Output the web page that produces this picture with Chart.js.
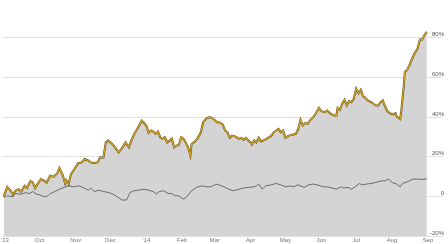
<!DOCTYPE html>
<html>
<head>
<meta charset="utf-8">
<script src="https://cdn.jsdelivr.net/npm/chart.js@4"></script>
<style>
  html, body { margin: 0; padding: 0; background: #fff; }
</style>
</head>
<body>
<canvas id="chart" width="448" height="244"></canvas>
<script>
// days counted from 1 Sep 2013, values in % change
const stockDays = [-1, 2, 5, 7, 9, 12, 14, 17, 19, 22, 24, 26, 29, 31, 34, 36, 39, 42, 45, 47, 50, 52, 53, 55, 57, 60, 63, 66, 69, 72, 74, 77, 80, 82, 85, 87, 89, 92, 95, 98, 100, 102, 104, 107, 109, 112, 115, 118, 120, 122, 124, 126, 128, 130, 132, 134, 136, 138, 140, 142, 144, 146, 148, 150, 152, 154, 156, 158, 160, 161, 163, 166, 169, 171, 174, 177, 180, 183, 185, 188, 190, 192, 194, 196, 199, 202, 204, 206, 208, 210, 212, 213, 215, 217, 219, 221, 224, 227, 230, 232, 234, 236, 238, 240, 242, 245, 248, 251, 253, 255, 257, 259, 261, 263, 266, 268, 270, 271, 273, 276, 278, 281, 284, 286, 287, 289, 291, 293, 295, 297, 299, 301, 303, 305, 307, 309, 311, 313, 316, 318, 320, 322, 324, 326, 328, 330, 333, 335, 337, 338, 341, 342, 344, 345, 347, 349, 351, 353, 356, 358, 360, 362, 364];
const stockValues = [0, 4.8, 2.8, 0.8, 2.8, 3.6, 2.3, 5.3, 4.2, 7.8, 7, 4.2, 7, 8.7, 7.8, 7, 10.4, 9.9, 11.5, 14.3, 10.4, 6.5, 8.2, 6.2, 11.2, 13.8, 16.6, 17.1, 18.8, 18, 17.1, 16.8, 17.1, 19.6, 19.6, 27.2, 28.1, 26.8, 24.7, 22.2, 23.5, 25.2, 27.2, 24.7, 28.1, 32, 34.8, 38.2, 37, 35.7, 32, 33.2, 32.7, 31.5, 32.7, 29.8, 29, 29.8, 27.2, 28.1, 29, 24.7, 25.6, 25.9, 29.8, 29, 27.2, 24.7, 20.5, 26.4, 27.2, 29, 32.3, 37.4, 39.4, 40, 39, 37.4, 37.4, 36.2, 33.2, 32.3, 29.5, 30.6, 30.1, 29, 29.5, 28.5, 29.5, 28.1, 27.2, 26.1, 28.1, 27.2, 29.5, 27.7, 28.5, 29.5, 30.6, 32.3, 33.2, 34, 32.3, 33.2, 29.5, 30.6, 31.1, 31.5, 34, 38.6, 35.7, 36.9, 36.6, 38.2, 39.9, 41.6, 43.6, 44.6, 42.9, 42.4, 43.3, 41.6, 40.8, 40.8, 44.6, 43.6, 46.7, 48.7, 45.8, 48, 47.5, 49.2, 54.3, 52, 53.8, 50.4, 49.7, 48.4, 47.5, 46.7, 45.8, 45.8, 47.5, 48.4, 45.3, 42.9, 41.6, 41.3, 41.9, 40.2, 39, 43.3, 55.1, 62.7, 63.9, 66.1, 69, 71.6, 74.5, 79.1, 79.1, 81.3, 82.9];

const indexDays = [-1, 2, 7, 9, 14, 18, 21, 24, 27, 30, 34, 37, 39, 43, 47, 51, 55, 59, 64, 68, 72, 74, 77, 81, 85, 90, 94, 98, 101, 105, 108, 111, 115, 120, 124, 128, 131, 133, 137, 141, 144, 147, 150, 154, 157, 161, 165, 170, 174, 178, 182, 185, 189, 193, 197, 202, 206, 210, 215, 217, 219, 222, 225, 230, 234, 238, 242, 246, 249, 253, 258, 262, 266, 270, 275, 278, 282, 286, 290, 292, 296, 299, 302, 306, 308, 312, 316, 320, 325, 328, 331, 334, 338, 341, 343, 348, 352, 356, 360, 364];
const indexValues = [-0.5, 0.25, -0.2, 1.4, 1.1, 1.9, 1.4, 2.4, 1.1, 0.8, -0.3, 0.2, 1.4, 2.4, 3.6, 4.5, 5.3, 4.8, 5.3, 4.2, 3.1, 4.2, 2.4, 3.1, 2.4, 1.9, 0.8, -0.6, -1.9, -1.8, 1.9, 2.8, 3.1, 3.6, 3.1, 2.4, 1.1, 2.4, 2.8, 1.4, 1.4, 0.25, 0.25, -1.4, -0.2, 2.8, 4.5, 5.3, 4.8, 4.8, 6.2, 5.7, 4.8, 3.6, 2.8, 3.6, 4.2, 4.5, 4.8, 5.3, 6.2, 3.6, 5.3, 5.8, 6.5, 5.8, 4.8, 5.3, 4.8, 5.8, 4.5, 5.8, 6.2, 5.7, 4.8, 4.8, 4.2, 3.6, 4.8, 4.2, 4.5, 3.6, 4.8, 6.5, 5.8, 6.2, 6.5, 7, 7.8, 7.8, 8.7, 7, 6.2, 4.8, 6.5, 7.5, 8.7, 8.7, 8.5, 8.9];

const monthLabels = ["'13", "Oct", "Nov", "Dec", "'14", "Feb", "Mar", "Apr", "May", "Jun", "Jul", "Aug", "Sep"];
const yTickValues = [-20, 0, 20, 40, 60, 80];

const start = Date.UTC(2013, 8, 1);
const monthTicks = monthLabels.map((l, i) => (Date.UTC(2013, 8 + i, 1) - start) / 864e5);

const toPoints = (days, vals) => days.map((d, i) => ({ x: d, y: vals[i] }));
const stock = toPoints(stockDays, stockValues);
const index = toPoints(indexDays, indexValues);

const tickFont = { family: "'Liberation Sans', Arial, sans-serif", size: 6 };

const c = document.getElementById("chart");
new Chart(c, {
    type: "line",
    data: {
        datasets: [
            { data: stock, borderColor: "#dcab24", borderWidth: 1.1, pointRadius: 0, fill: false },
            { data: stock, borderColor: "#5e4912", borderWidth: 2, pointRadius: 0, fill: false },
            { data: index, borderColor: "#6a6a6a", borderWidth: 1, pointRadius: 0, fill: false },
            { data: stock, borderWidth: 0, pointRadius: 0, backgroundColor: "#d4d4d4", fill: "start" }
        ]
    },
    options: {
        responsive: false,
        animation: false,
        devicePixelRatio: 1,
        layout: { padding: { left: 2, top: 0, right: 4, bottom: 0 } },
        plugins: { legend: { display: false }, tooltip: { enabled: false } },
        scales: {
            x: {
                type: "linear",
                min: -2,
                max: 365,
                grid: { display: false, drawTicks: false },
                border: { display: false },
                afterBuildTicks: (scale) => {
                    scale.ticks = monthTicks.map(v => ({ value: v }));
                },
                afterFit: (scale) => { scale.height = 8; },
                ticks: {
                    autoSkip: false,
                    maxRotation: 0,
                    padding: 1,
                    color: "#777",
                    font: tickFont,
                    callback: (v, i) => monthLabels[i]
                }
            },
            y: {
                position: "right",
                min: -20,
                max: 99,
                z: 1,
                afterFit: (scale) => { scale.width = 16; },
                afterBuildTicks: (scale) => {
                    scale.ticks = yTickValues.map(v => ({ value: v }));
                },
                grid: { color: "#e1e1e1", lineWidth: 1, tickLength: 15 },
                border: { display: false },
                ticks: {
                    crossAlign: "far",
                    padding: -15,
                    labelOffset: -3,
                    color: "#555",
                    font: tickFont,
                    callback: (v) => v === 0 ? "0" : v + "%"
                }
            }
        }
    }
});
</script>
</body>
</html>
